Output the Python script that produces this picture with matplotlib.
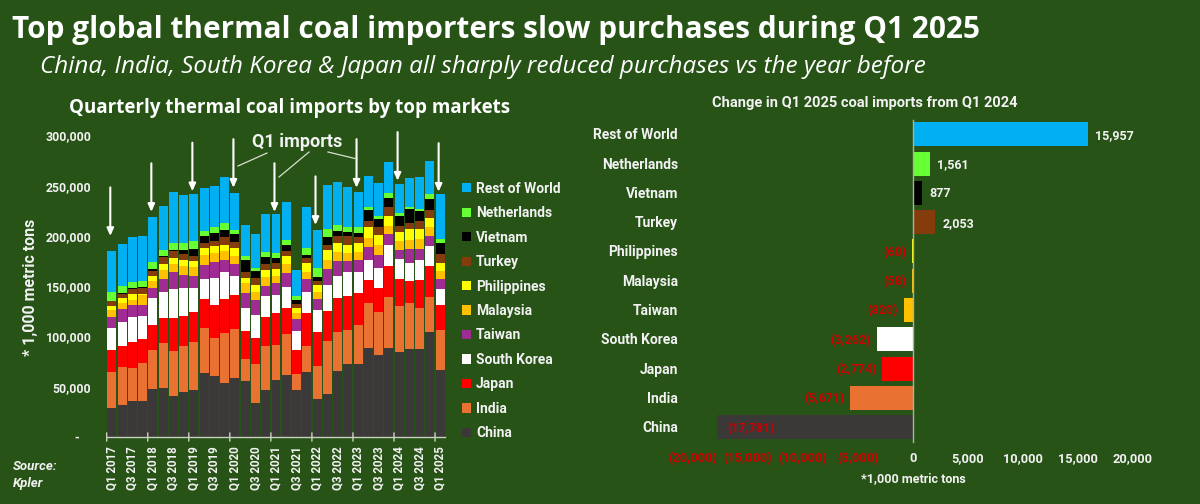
import matplotlib
matplotlib.use("Agg")
import matplotlib.pyplot as plt
import numpy as np
from matplotlib.lines import Line2D
from matplotlib.patches import Patch

BG = "#275317"
TXT = "#F2F2F2"
NEG = "#CC0000"
FONT = "Roboto"
W, H = 1200, 504

quarters = [f"Q{q} {y}" for y in range(2017, 2025) for q in (1, 2, 3, 4)] + ["Q1 2025"]

# quarterly imports, 1,000 t
china = [29, 32, 36, 35.5, 48, 49, 41, 45, 46.5, 64, 60.5, 54, 59, 56, 34, 46.5, 56.5,
         61.5, 46.5, 65, 37.5, 43, 65.5, 72.5, 72.5, 89, 81.5, 89, 85, 88, 88, 104, 66.5]
india = [36, 38, 33, 38.5, 39, 45, 45, 45.5, 48, 44.5, 38.5, 49.5, 48, 22, 39, 44, 35.5,
         40.5, 16.5, 26, 33.5, 52.5, 39, 34, 38.5, 44, 42.5, 50.7, 45, 45, 40, 35.5, 39.5]
japan = [21.5, 21, 25.5, 24, 24, 24, 32, 30, 30, 28.5, 32, 33.5, 34, 27, 26, 28.5, 31,
         26.5, 23.5, 32, 33.5, 30, 33.5, 33.5, 32.5, 23, 24, 30.3, 27.5, 22, 28, 30.5, 25]
south_korea = [22, 23, 24.5, 22, 27, 26.5, 29.5, 27.5, 23.5, 20.5, 27.5, 27.5, 19, 23.5, 22.5, 21, 18,
               21, 19, 21, 21.5, 25.8, 22.3, 24.3, 20.8, 20, 20, 21.3, 19.5, 18, 20, 19.7, 16]
taiwan = [11, 13.5, 12.3, 11, 10.7, 12.5, 16.2, 13, 12.3, 13.8, 15.8, 11.8, 12, 15.2, 14.5, 10.3, 12,
          13.5, 12.2, 13, 11, 15.7, 14.4, 10.4, 12, 13.3, 13.3, 10.7, 9.3, 14, 11, 10, 10]
malaysia = [6.5, 6.2, 5.2, 10, 6.6, 9.3, 8.3, 8.7, 8.4, 9.7, 8.4, 8.4, 8.3, 9.3, 8.7, 9, 7.3,
            9, 5.3, 7.3, 7.7, 9.3, 9, 8.3, 8, 8.7, 10, 8.3, 9, 9.3, 10, 9, 7.7]
philippines = [4, 5, 5.5, 1, 5, 5.7, 5.7, 6.3, 6.6, 6.7, 7, 6.6, 7.4, 5, 6.6, 6.7, 6.7,
               7.7, 5, 8.7, 6.6, 9.7, 9.3, 8.3, 8.4, 10.7, 9.7, 10, 9, 10.7, 10, 9.6, 8.3]
turkey = [5, 3.3, 5, 6.5, 5, 6.7, 7, 6, 5, 5, 5, 7.4, 6, 5.7, 7.4, 6, 6,
          5.6, 4.7, 4.7, 4, 5, 7.3, 9, 6, 6, 7.7, 8.4, 6, 6, 7.7, 7.7, 9]
vietnam = [0.5, 1, 1.7, 0.8, 1.7, 1, 1.3, 4.3, 6.7, 7.6, 8, 7.6, 8.6, 12.6, 6, 6.7, 4.7,
           5.7, 3.3, 3.3, 4, 7.7, 4.4, 3.4, 4.3, 11.6, 8.3, 9.3, 10, 14, 10, 11, 11]
netherlands = [9.2, 7.3, 6, 6, 7.3, 6.3, 7, 6.7, 8.3, 5, 6, 6.7, 3.7, 3.4, 3.3, 5, 5,
               5.3, 4.3, 6.7, 8.7, 8.3, 6.6, 5.6, 5.7, 2.4, 3.3, 5, 2.4, 1.7, 2.3, 4.3, 4]
rest_of_world = [40.6, 41.7, 44, 44.4, 45, 44.3, 50.7, 48, 46.4, 42.4, 40.6, 45.3, 37, 31.3, 34, 38.3, 39.3,
                 37.4, 26, 41.3, 38, 43.3, 42.4, 39.4, 35, 31, 32.4, 30.7, 29.3, 29, 31.7, 33.7, 44.7]

series = ["China", "India", "Japan", "South Korea", "Taiwan", "Malaysia",
          "Philippines", "Turkey", "Vietnam", "Netherlands", "Rest of World"]
series_values = [china, india, japan, south_korea, taiwan, malaysia,
                 philippines, turkey, vietnam, netherlands, rest_of_world]
colors = ["#3B3838", "#E97132", "#FF0000", "#FFFFFF", "#A02B93", "#FFC000",
          "#FFFF00", "#843C0C", "#000000", "#66FF33", "#00B0F0"]

# white arrows over the Q1 bars: bar index and tip height
q1_bars = [0, 4, 8, 12, 16, 20, 24, 28, 32]
arrow_tips = [200, 224, 244.5, 248, 224, 211, 248, 255, 244]

# right panel, top to bottom
change_names = ["Rest of World", "Netherlands", "Vietnam", "Turkey", "Philippines", "Malaysia",
                "Taiwan", "South Korea", "Japan", "India", "China"]
change_values = [15957, 1561, 877, 2053, -60, -58, -820, -3262, -2774, -5671, -17781]
change_colors = ["#00B0F0", "#66FF33", "#000000", "#843C0C", "#FFFF00", "#FFC000",
                 "#FFC000", "#FFFFFF", "#FF0000", "#E97132", "#3B3838"]
change_ticks = [-20000, -15000, -10000, -5000, 0, 5000, 10000, 15000, 20000]


def fmt_paren(v):
    return f"({abs(v):,})" if v < 0 else f"{v:,}"


def axes_box(left, top, right, bottom):
    # pixel box (y from the top of the image) to figure fractions
    return [left / W, 1 - bottom / H, (right - left) / W, (bottom - top) / H]


def fx(x):
    return x / W


def fy(y):
    return 1 - y / H


plt.rcParams["font.family"] = [FONT, "DejaVu Sans"]
fig = plt.figure(figsize=(W / 100, H / 100), dpi=100, facecolor=BG)

# --- stacked bars
ax = fig.add_axes(axes_box(106.7, 135.5, 445.3, 437))
ax.set_facecolor(BG)
x = np.arange(len(quarters))
bottom = np.zeros(len(quarters))
for name, vals, col in zip(series, series_values, colors):
    vals = np.array(vals) * 1000
    ax.bar(x, vals, 0.87, bottom=bottom, color=col, label=name, linewidth=0)
    bottom += vals
ax.set_xlim(-0.5, len(quarters) - 0.5)
ax.set_ylim(0, 300000)
for s in ["top", "left", "right"]:
    ax.spines[s].set_visible(False)
ax.spines["bottom"].set_color("#C8D0C0")
ax.spines["bottom"].set_linewidth(1)

ax.set_yticks(range(0, 300001, 50000))
ax.set_yticklabels(["-    "] + [f"{v:,}" for v in range(50000, 300001, 50000)],
                   fontsize=8.8, fontweight="bold", color=TXT)
ax.tick_params(axis="y", length=0, pad=11)
ax.set_xticks(x[::2])
ax.set_xticklabels(quarters[::2], rotation=90, fontsize=8.3, fontweight="bold", color=TXT)
ax.tick_params(axis="x", length=0, pad=6.5)
# tick marks sit between the categories, every 4th
for i in range(0, len(quarters), 4):
    for off in (-3, 3):
        ax.annotate("", xy=(i - 0.5, 0), xycoords=("data", "axes fraction"), xytext=(0, off),
                    textcoords="offset points",
                    arrowprops=dict(arrowstyle="-", color="#C8D0C0", lw=1, shrinkA=0, shrinkB=0),
                    annotation_clip=False)

for i, tip in zip(q1_bars, arrow_tips):
    ax.annotate("", xy=(i - 0.15, tip * 1000), xytext=(0, 35), textcoords="offset points",
                arrowprops=dict(arrowstyle="-|>,head_width=0.2,head_length=0.45", color="white", lw=1.5,
                                shrinkA=0, shrinkB=0), annotation_clip=False)

handles = [Patch(facecolor=c, label=n) for n, c in zip(series[::-1], colors[::-1])]
fig.legend(handles=handles, loc="upper left", bbox_to_anchor=(fx(456), fy(176)), frameon=False,
           labelcolor=TXT, handlelength=0.65, handleheight=0.65, handletextpad=0.4,
           labelspacing=0.755, borderpad=0.4, borderaxespad=0,
           prop={"family": FONT, "weight": "bold", "size": 10})

fig.text(fx(31), fy(287), "* 1,000 metric tons", rotation=90, ha="center", va="center",
         fontsize=11.5, fontweight="bold", color=TXT)
fig.text(fx(297), fy(142), "Q1 imports", ha="center", va="center", fontsize=13, fontweight="bold", color=TXT)
for x0, y0, x1, y1 in [(267, 153, 238, 166), (309, 152, 279, 177), (328, 152, 357, 159)]:
    fig.add_artist(Line2D([fx(x0), fx(x1)], [fy(y0), fy(y1)], color="#D8E0D0", lw=0.9))

# --- change bars
ax2 = fig.add_axes(axes_box(693, 119.7, 1132.5, 441.7))
ax2.set_facecolor(BG)
y = np.arange(len(change_names))
ax2.barh(y, change_values, 0.82, color=change_colors, linewidth=0)
ax2.set_xlim(-20000, 20000)
ax2.set_ylim(len(change_names) - 0.5, -0.5)
for s in ["top", "bottom", "right"]:
    ax2.spines[s].set_visible(False)
ax2.spines["left"].set_position(("data", 0))
ax2.spines["left"].set_color("#A8B4A0")
ax2.spines["left"].set_linewidth(1)
ax2.set_yticks([])
ax2.set_xticks(change_ticks)
ax2.set_xticklabels([fmt_paren(t) for t in change_ticks], fontsize=9.2, fontweight="bold")
for lbl, t in zip(ax2.get_xticklabels(), change_ticks):
    lbl.set_color(NEG if t < 0 else TXT)
ax2.tick_params(axis="x", length=0, pad=7.5)

for yi, name, v in zip(y, change_names, change_values):
    ax2.annotate(name, xy=(0, yi), xycoords=("axes fraction", "data"), xytext=(-15, -1),
                 textcoords="offset pixels", ha="right", va="center", fontsize=10,
                 fontweight="bold", color=TXT, annotation_clip=False)
    if v >= 0:
        ax2.annotate(fmt_paren(v), xy=(v, yi), xytext=(7, -1), textcoords="offset pixels",
                     ha="left", va="center", fontsize=9, fontweight="bold", color=TXT)
    elif name == "China":
        ax2.annotate(fmt_paren(v), xy=(v, yi), xytext=(10, -1), textcoords="offset pixels",
                     ha="left", va="center", fontsize=9, fontweight="bold", color=NEG)
    else:
        ax2.annotate(fmt_paren(v), xy=(v, yi), xytext=(-6, -1), textcoords="offset pixels",
                     ha="right", va="center", fontsize=9, fontweight="bold", color=NEG)

fig.text(fx(913), fy(479), "*1,000 metric tons", ha="center", va="center", fontsize=9,
         fontweight="bold", color=TXT)

# --- titles
fig.text(fx(12), fy(30), "Top global thermal coal importers slow purchases during Q1 2025",
         ha="left", va="center", fontsize=21.4, fontweight="bold", color="white", family="Open Sans")
fig.text(fx(40), fy(67), "China, India, South Korea & Japan all sharply reduced purchases vs the year before",
         ha="left", va="center", fontsize=17.5, style="italic", color="white", family="Open Sans")
fig.text(fx(289.5), fy(108), "Quarterly thermal coal imports by top markets", ha="center", va="center",
         fontsize=13.5, fontweight="bold", color="white", family="Open Sans")
fig.text(fx(865), fy(103), "Change in Q1 2025 coal imports from Q1 2024", ha="center", va="center",
         fontsize=10.5, fontweight="bold", color=TXT)
fig.text(fx(13), fy(467), "Source:", ha="left", va="center", fontsize=9.5, fontweight="bold",
         style="italic", color=TXT)
fig.text(fx(13), fy(483), "Kpler", ha="left", va="center", fontsize=9.5, fontweight="bold",
         style="italic", color=TXT)

fig.savefig("out.png", dpi=100, facecolor=BG)
